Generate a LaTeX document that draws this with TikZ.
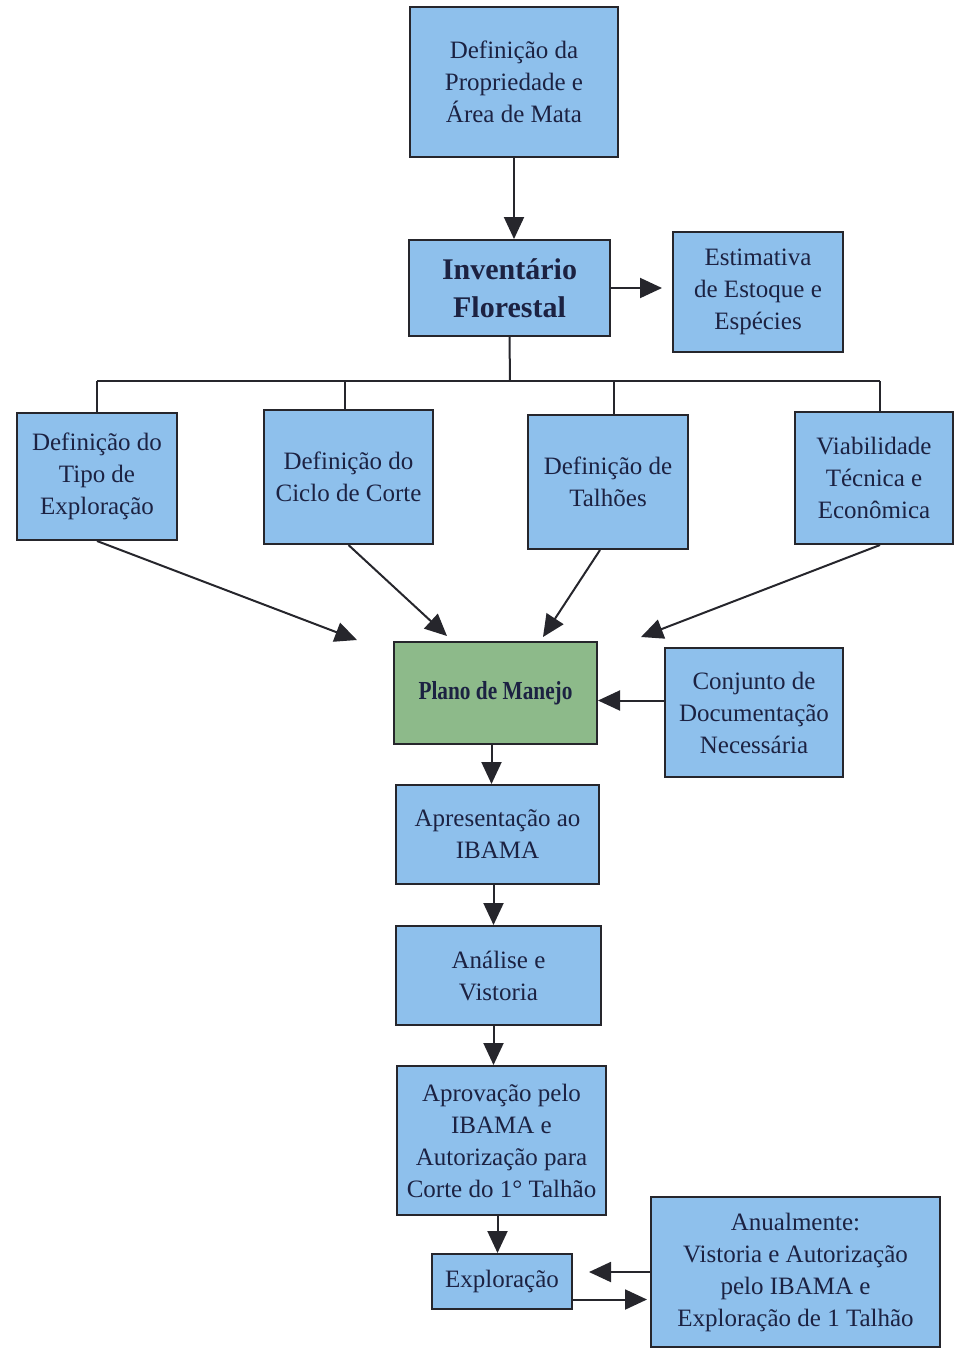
\documentclass[tikz,border=0pt]{standalone}
\usepackage{fontspec}
\setmainfont{Liberation Serif}
\usepackage{tikz}
\usetikzlibrary{positioning, arrows.meta}
\definecolor{boxblue}{RGB}{142,192,236}
\definecolor{boxgreen}{RGB}{141,186,138}
\definecolor{inkblue}{RGB}{28,34,66}
\definecolor{edgegray}{RGB}{38,38,44}

\begin{document}
\begin{tikzpicture}[x=0.5pt, y=-0.5pt,
        every node/.style={font=\fontsize{12.5}{16}\selectfont, text=inkblue, align=center},
        etapa/.style={draw=edgegray, line width=1pt, fill=boxblue, inner sep=0pt},
        plano/.style={etapa, fill=boxgreen},
        seta/.style={draw=edgegray, line width=1pt, -{Triangle[length=11pt, width=10pt]}},
        ramo/.style={draw=edgegray, line width=1pt}]
                \useasboundingbox (0,0) rectangle (959,1350);

                \node [etapa, minimum width=104pt, minimum height=75pt] (prop) at (514, 82) {Definição da\\Propriedade e\\Área de Mata};
                \node [etapa, minimum width=100.5pt, minimum height=48pt, font=\fontsize{15}{19}\selectfont\bfseries] (inv) at (509.5, 288) {Inventário\\Florestal};
                \node [etapa, minimum width=85pt, minimum height=60pt] (estim) at (758, 292) {Estimativa\\de Estoque e\\Espécies};

                \node [etapa, minimum width=80pt, minimum height=63.5pt] (tipo) at (97, 476.5) {Definição do\\Tipo de\\Exploração};
                \node [etapa, minimum width=84.5pt, minimum height=67pt] (ciclo) at (348.5, 477) {Definição do\\Ciclo de Corte};
                \node [etapa, minimum width=80pt, minimum height=67pt] (talhoes) at (608, 482) {Definição de\\Talhões};
                \node [etapa, minimum width=79pt, minimum height=66pt] (viab) at (874, 478) {Viabilidade\\Técnica e\\Econômica};

                \node [plano, minimum width=101.5pt, minimum height=51pt, font=\fontsize{13}{15}\selectfont\bfseries] (plano) at (495.5, 693) {\scalebox{0.82}[1]{Plano de Manejo}};
                \node [etapa, minimum width=89pt, minimum height=64.5pt] (conj) at (754, 712.5) {Conjunto de\\Documentação\\Necessária};
                \node [etapa, minimum width=101.5pt, minimum height=49.5pt] (apres) at (497.5, 834.5) {Apresentação ao\\IBAMA};
                \node [etapa, minimum width=102.5pt, minimum height=49.5pt] (anal) at (498.5, 975.5) {Análise e\\Vistoria};
                \node [etapa, minimum width=104.5pt, minimum height=74.5pt] (aprov) at (501.5, 1140.5) {Aprovação pelo\\IBAMA e\\Autorização para\\Corte do 1° Talhão};
                \node [etapa, minimum width=70pt, minimum height=27.5pt] (expl) at (502, 1281.5) {Exploração};
                \node [etapa, minimum width=144.5pt, minimum height=75pt] (anual) at (795.5, 1272) {Anualmente:\\Vistoria e Autorização\\pelo IBAMA e\\Exploração de 1 Talhão};

                % barra de distribuicao
                \coordinate (bar) at (510, 381);
                \coordinate (j1) at (97, 381);
                \coordinate (j2) at (345, 381);
                \coordinate (j3) at (614, 381);
                \coordinate (j4) at (880, 381);
                % pontas livres acima do plano
                \coordinate (e1) at (357, 640);
                \coordinate (e2) at (447, 636);
                \coordinate (e3) at (543, 637);
                \coordinate (e4) at (641, 637);

                \draw [seta] (prop.south) -- (prop.south |- inv.north);
                \draw [seta, shorten >=5pt] (inv.east) -- (inv.east -| estim.west);

                \draw [ramo] (inv.south) -- (bar);
                \draw [ramo] (j1) -- (j4);
                \draw [ramo] (j1) -- (j1 |- tipo.north);
                \draw [ramo] (j2) -- (j2 |- ciclo.north);
                \draw [ramo] (j3) -- (j3 |- talhoes.north);
                \draw [ramo] (j4) -- (j4 |- viab.north);

                \draw [seta] (tipo.south) -- (e1);
                \draw [seta] (ciclo.south) -- (e2);
                \draw [seta] ([xshift=-4pt]talhoes.south) -- (e3);
                \draw [seta] ([xshift=3pt]viab.south) -- (e4);

                \draw [seta] ([yshift=6pt]conj.west) -- ([yshift=6pt]conj.west -| plano.east);
                \draw [seta] ([xshift=-2pt]plano.south) -- ([xshift=-2pt]plano.south |- apres.north);
                \draw [seta] ([xshift=-2pt]apres.south) -- ([xshift=-2pt]apres.south |- anal.north);
                \draw [seta] ([xshift=-2.5pt]anal.south) -- ([xshift=-2.5pt]anal.south |- aprov.north);
                \draw [seta] ([xshift=-2pt]aprov.south) -- ([xshift=-2pt]aprov.south |- expl.north);

                \draw [seta, shorten >=8pt] (anual.west) -- (anual.west -| expl.east);
                \draw [seta, shorten >=1.5pt] ([yshift=-9pt]expl.east) -- ([yshift=-9pt]expl.east -| anual.west);
            \end{tikzpicture}
\end{document}
